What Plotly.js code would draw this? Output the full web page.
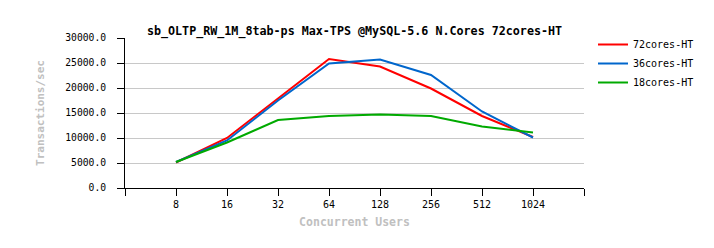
<!DOCTYPE html>
<html>
<head>
<meta charset="utf-8">
<script src="https://cdn.plot.ly/plotly-3.0.1.min.js"></script>
<style>html,body{margin:0;padding:0;background:#fff;}#chart{width:714px;height:248px;}</style>
</head>
<body>
<div id="chart"></div>
<script>
const users = ['8', '16', '32', '64', '128', '256', '512', '1024'];
const seriesNames = ['72cores-HT', '36cores-HT', '18cores-HT'];
const tps72 = [5100, 10000, 17900, 25800, 24300, 19900, 14400, 10200];
const tps36 = [5200, 9500, 17500, 24900, 25700, 22600, 15300, 10100];
const tps18 = [5200, 9100, 13600, 14400, 14700, 14400, 12300, 11100];
const yTicks = [0, 5000, 10000, 15000, 20000, 25000, 30000];
const colors = ['#ff0000', '#0066cc', '#00aa00'];

const xIdx = users.map((u, i) => i);
const allSeries = [tps72, tps36, tps18];
const traces = allSeries.map((vals, k) => ({
  x: xIdx, y: vals, type: 'scatter', mode: 'lines', name: seriesNames[k],
  line: {color: colors[k], width: 2}
}));
// invisible helper trace so the tick-mark-only overlay axis is drawn
traces.push({x: xIdx, y: tps72, yaxis: 'y2', type: 'scatter', mode: 'lines',
  line: {width: 0, color: 'rgba(0,0,0,0)'}, showlegend: false, hoverinfo: 'skip'});

const tickvals = [-1].concat(xIdx, [users.length]);
const ticktext = [''].concat(users, ['']);
const yTickText = yTicks.map(v => v.toFixed(1));
const mono = 'DejaVu Sans Mono, monospace';

const layout = {
  width: 714, height: 248,
  margin: {l: 125, r: 130, t: 38, b: 60},
  paper_bgcolor: '#ffffff', plot_bgcolor: '#ffffff',
  title: {text: '<b>sb_OLTP_RW_1M_8tab-ps Max-TPS @MySQL-5.6 N.Cores 72cores-HT</b>',
    font: {family: mono, size: 11.7, color: '#000'},
    x: 0.5, xref: 'paper', y: 1 - 31/248, yref: 'container', yanchor: 'middle'},
  xaxis: {range: [-1, users.length], tickmode: 'array', tickvals: tickvals, ticktext: ticktext,
    showgrid: false, zeroline: false, showline: true, linecolor: '#000', linewidth: 1,
    ticks: 'outside', ticklen: 7, tickcolor: '#000', tickwidth: 1,
    tickfont: {family: mono, size: 10, color: '#000'},
    title: {text: '<b>Concurrent Users</b>', font: {family: mono, size: 11.5, color: '#c0c0c0'}, standoff: 8}},
  yaxis: {range: [0, 30000], tickmode: 'array', tickvals: yTicks, ticktext: yTickText,
    showgrid: true, gridcolor: '#c8c8c8', gridwidth: 1, zeroline: false,
    showline: true, linecolor: '#000', linewidth: 1,
    ticks: 'outside', ticklen: 16, tickcolor: 'rgba(0,0,0,0)', tickwidth: 1,
    tickfont: {family: mono, size: 9.7, color: '#000'},
    title: {text: '<b>Transactions/sec</b>', font: {family: mono, size: 11, color: '#c0c0c0'}, standoff: 18}},
  yaxis2: {range: [0, 30000], overlaying: 'y', side: 'left', tickmode: 'array', tickvals: yTicks,
    showticklabels: false, showgrid: false, zeroline: false, showline: false,
    ticks: 'outside', ticklen: 7, tickcolor: '#000', tickwidth: 1},
  legend: {x: 593/714, xref: 'container', y: 1 - 30/248, yref: 'container', xanchor: 'left', yanchor: 'top',
    font: {family: mono, size: 10, color: '#000'}, bgcolor: 'rgba(0,0,0,0)', tracegroupgap: 0},
  showlegend: true
};

Plotly.newPlot('chart', traces, layout, {displayModeBar: false, staticPlot: true});
</script>
</body>
</html>
